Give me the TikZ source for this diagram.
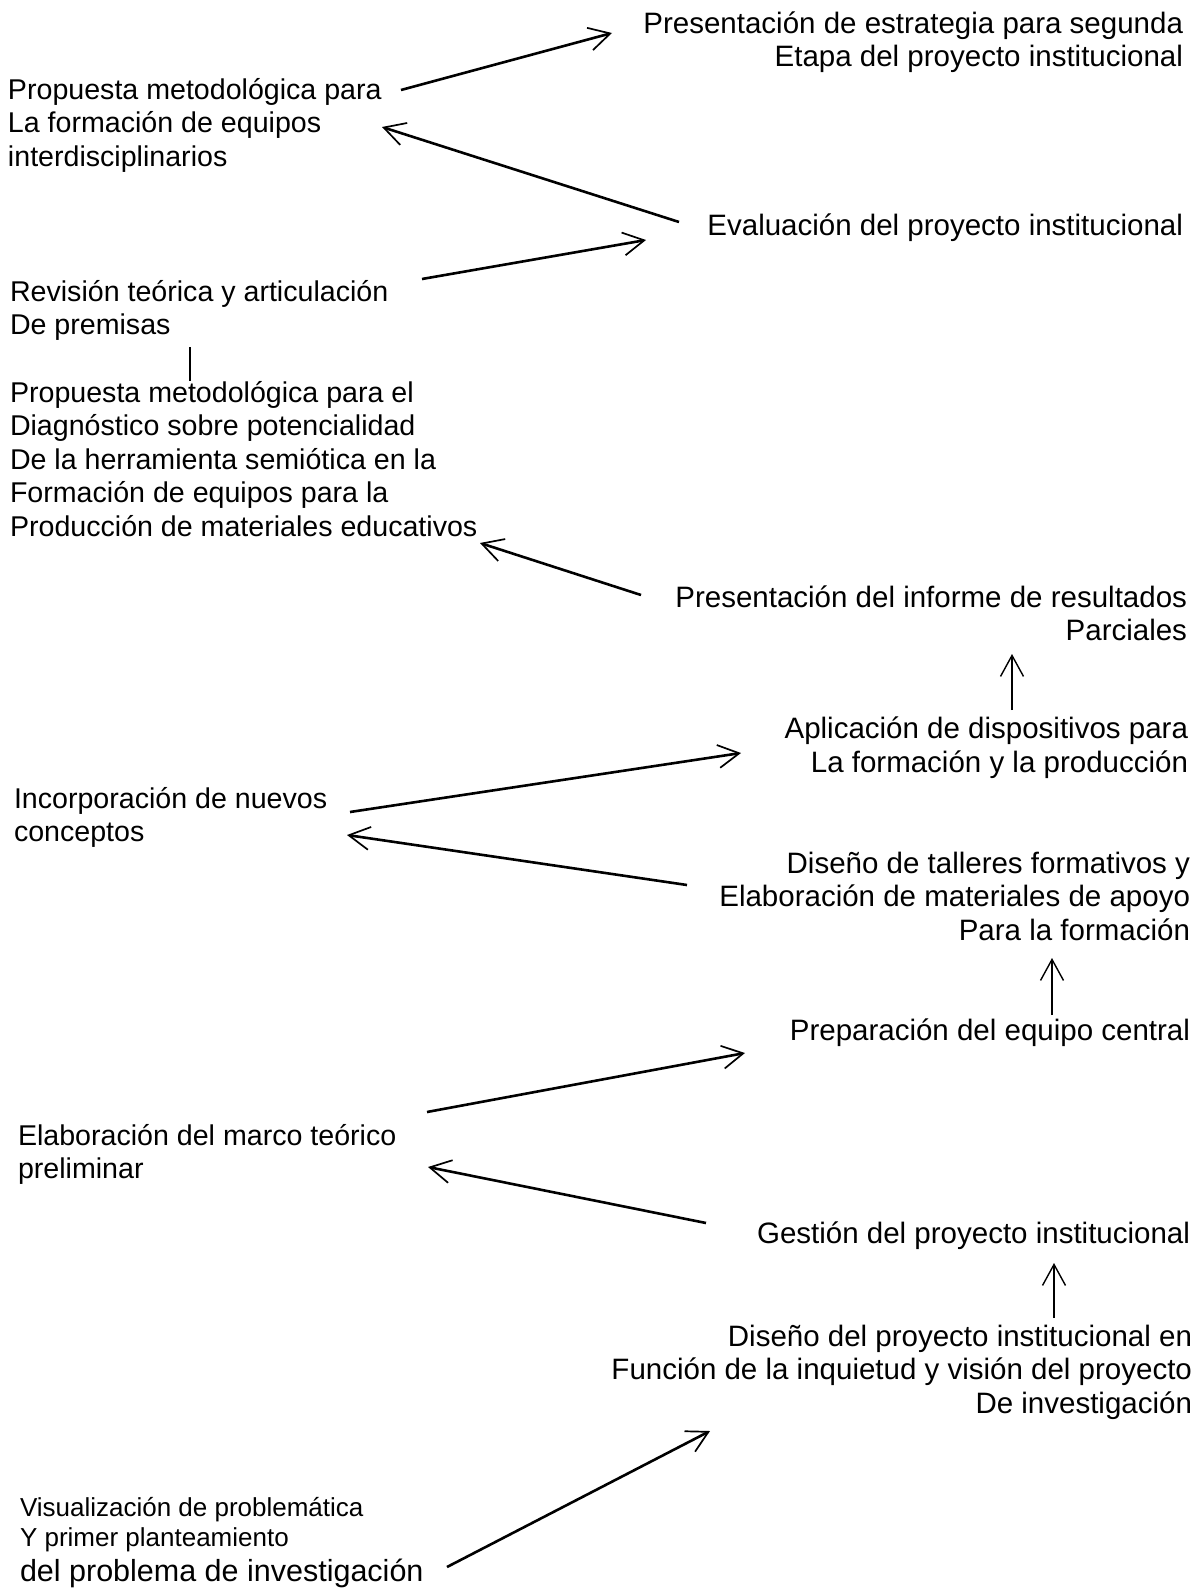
\documentclass[tikz,border=0pt]{standalone}
\usepackage{fontspec}
\setmainfont{Liberation Sans}
\usetikzlibrary{arrows.meta}
\tikzset{
  txt/.style={inner sep=0pt, outer sep=0pt},
  lbl/.style={txt, align=left, anchor=base west, font=\fontsize{28.6}{33.5}\selectfont},
  rbl/.style={txt, align=right, anchor=base east, font=\fontsize{29.5}{33.5}\selectfont},
  arr/.style={line width=2.6pt, -{Straight Barb[length=21pt,width=23pt,line width=1.7pt]}},
  varr/.style={line width=1.3pt, -{Straight Barb[length=21pt,width=23pt,line width=1.4pt]}},
  plain/.style={line width=1.3pt}
}
\begin{document}
\begin{tikzpicture}[x=1pt,y=-1pt]
\useasboundingbox (0,0) rectangle (1198,1590);

% right column (anchors at the baseline of the last line)
\node[rbl] (estr) at (1183,66.5) {Presentación de estrategia para segunda\\Etapa del proyecto institucional};
\node[rbl] (eval) at (1183,235) {Evaluación del proyecto institucional};
\node[rbl] (inf) at (1187,640.5) {Presentación del informe de resultados\\Parciales};
\node[rbl] (apl) at (1188,772) {Aplicación de dispositivos para\\La formación y la producción};
\node[rbl] (tall) at (1190,940) {Diseño de talleres formativos y\\Elaboración de materiales de apoyo\\Para la formación};
\node[rbl] (prep) at (1190,1040) {Preparación del equipo central};
\node[rbl] (gest) at (1190,1243) {Gestión del proyecto institucional};
\node[rbl] (dis) at (1192,1413) {Diseño del proyecto institucional en\\Función de la inquietud y visión del proyecto\\De investigación};

% left column
\node[lbl] (prop1) at (8,166) {Propuesta metodológica para\\La formación de equipos\\interdisciplinarios};
\node[lbl] (rev) at (10,334.5) {Revisión teórica y articulación\\De premisas};
\node[lbl] (prop2) at (10,536) {Propuesta metodológica para el\\Diagnóstico sobre potencialidad\\De la herramienta semiótica en la\\Formación de equipos para la\\Producción de materiales educativos};
\node[lbl] (inc) at (14,841.5) {Incorporación de nuevos\\conceptos};
\node[lbl] (marco) at (18,1178.5) {Elaboración del marco teórico\\preliminar};
\node[txt, align=left, anchor=base west,
      font=\fontsize{26}{30}\selectfont] (vis) at (20,1581)
  {Visualización de problemática\\
   Y primer planteamiento\\[5pt]
   {\fontsize{30.5}{34}\selectfont del problema de investigación}};

% connector end points
\coordinate (p1o) at (401,90);   \coordinate (estri) at (612,33);
\coordinate (evo) at (679,222);  \coordinate (p1i) at (382,127);
\coordinate (revo) at (422,279); \coordinate (evi) at (646,240);
\coordinate (revb) at (190,347); \coordinate (p2t) at (190,381);
\coordinate (info) at (641,595); \coordinate (p2i) at (480,543);
\coordinate (aplo) at (1012,710); \coordinate (infi) at (1012,654);
\coordinate (inco) at (350,812); \coordinate (apli) at (741,753);
\coordinate (tallo) at (687,885); \coordinate (inci) at (347,835);
\coordinate (prepo) at (1052,1015); \coordinate (talli) at (1052,958);
\coordinate (marco-o) at (427,1112); \coordinate (prepi) at (745,1053);
\coordinate (gesto) at (706,1223); \coordinate (marci) at (428,1167);
\coordinate (diso) at (1054,1318); \coordinate (gesti) at (1054,1263);
\coordinate (viso) at (447,1567); \coordinate (disi) at (710,1431);

% connectors
\draw[arr] (p1o) -- (estri);
\draw[arr] (evo) -- (p1i);
\draw[arr] (revo) -- (evi);
\draw[plain] (revb) -- (p2t);
\draw[arr] (info) -- (p2i);
\draw[varr] (aplo) -- (infi);
\draw[arr] (inco) -- (apli);
\draw[arr] (tallo) -- (inci);
\draw[varr] (prepo) -- (talli);
\draw[arr] (marco-o) -- (prepi);
\draw[arr] (gesto) -- (marci);
\draw[varr] (diso) -- (gesti);
\draw[arr] (viso) -- (disi);
\end{tikzpicture}
\end{document}
